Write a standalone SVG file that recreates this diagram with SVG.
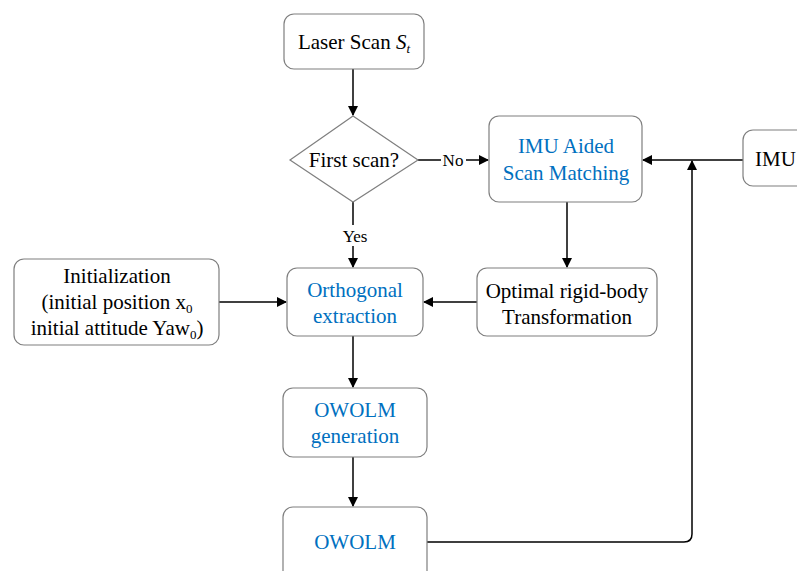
<svg xmlns="http://www.w3.org/2000/svg" width="797" height="571" viewBox="0 0 797 571">
<style>
.box{fill:#fff;stroke:#7f7f7f;stroke-width:1.2}
.t{font-family:"Liberation Serif","Times New Roman",serif;font-size:21px;fill:#000;text-anchor:middle}
.l{text-anchor:start}
.b{fill:#0070c0}
.s{font-size:17px}
.c{fill:none;stroke:#000;stroke-width:1.5}
</style>
<defs>
<marker id="a" markerWidth="10" markerHeight="10" refX="9" refY="5" orient="auto" markerUnits="userSpaceOnUse">
<path d="M0,0 L10,5 L0,10 z" fill="#000"/>
</marker>
</defs>
<g id="connectors">
<line class="c" x1="353" y1="69" x2="353" y2="115" marker-end="url(#a)"/>
<line class="c" x1="418" y1="160" x2="441" y2="160"/>
<line class="c" x1="466" y1="160" x2="488" y2="160" marker-end="url(#a)"/>
<line class="c" x1="353" y1="202" x2="353" y2="225"/>
<line class="c" x1="353" y1="246" x2="353" y2="267" marker-end="url(#a)"/>
<line class="c" x1="743" y1="160" x2="643" y2="160" marker-end="url(#a)"/>
<line class="c" x1="567" y1="202" x2="567" y2="267" marker-end="url(#a)"/>
<line class="c" x1="477" y1="302" x2="424" y2="302" marker-end="url(#a)"/>
<line class="c" x1="219" y1="302" x2="286" y2="302" marker-end="url(#a)"/>
<line class="c" x1="353" y1="336" x2="353" y2="387" marker-end="url(#a)"/>
<line class="c" x1="353" y1="457" x2="353" y2="506" marker-end="url(#a)"/>
<path class="c" d="M427,542 H684 Q692,542 692,534 V161" marker-end="url(#a)"/>
<text class="t s" x="453" y="166">No</text>
<text class="t s" x="355" y="242">Yes</text>
</g>
<g id="laser">
<rect class="box" x="284" y="14" width="140" height="55" rx="10"/>
<text class="t" x="354" y="49">Laser Scan <tspan font-style="italic">S</tspan><tspan font-style="italic" font-size="13" dy="4">t</tspan></text>
</g>
<g id="first">
<polygon class="box" points="353,116 418,160 353,202 290,160"/>
<text class="t" x="354" y="167">First scan?</text>
</g>
<g id="imuaided">
<rect class="box" x="489" y="116" width="153" height="86" rx="10"/>
<text class="t b" x="566" y="153">IMU Aided</text>
<text class="t b" x="566" y="180">Scan Matching</text>
</g>
<g id="imu">
<rect class="box" x="743" y="130" width="70" height="56" rx="10"/>
<text class="t l" x="755" y="166">IMU</text>
</g>
<g id="optimal">
<rect class="box" x="477" y="268" width="180" height="68" rx="10"/>
<text class="t" x="567" y="298">Optimal rigid-body</text>
<text class="t" x="567" y="324">Transformation</text>
</g>
<g id="orthogonal">
<rect class="box" x="287" y="268" width="136" height="68" rx="10"/>
<text class="t b" x="355" y="297">Orthogonal</text>
<text class="t b" x="355" y="323">extraction</text>
</g>
<g id="init">
<rect class="box" x="14" y="259" width="205" height="86" rx="10"/>
<text class="t" x="117" y="283">Initialization</text>
<text class="t" x="117" y="309">(initial position x<tspan font-size="13" dy="4">0</tspan></text>
<text class="t" x="117" y="335">initial attitude Yaw<tspan font-size="13" dy="4">0</tspan><tspan dy="-4">)</tspan></text>
</g>
<g id="owolmgen">
<rect class="box" x="283" y="388" width="144" height="69" rx="10"/>
<text class="t b" x="355" y="417">OWOLM</text>
<text class="t b" x="355" y="443">generation</text>
</g>
<g id="owolm">
<rect class="box" x="283" y="507" width="144" height="80" rx="10"/>
<text class="t b" x="355" y="549">OWOLM</text>
</g>
</svg>
